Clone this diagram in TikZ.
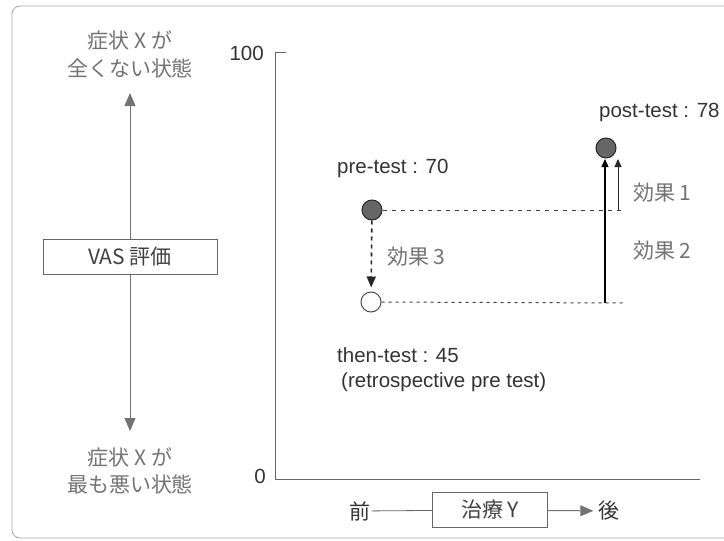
\documentclass[tikz,border=0pt]{standalone}
\usepackage{fontspec}
\setmainfont{Liberation Sans}
\newfontfamily\jp{Noto Sans CJK JP}
\usetikzlibrary{arrows.meta, positioning, calc}
\usepackage{xcolor}
\tikzstyle{arrow} = [thick,->,>=stealth]
\tikzset{
  txt/.style    = {inner sep = 1pt, text = black!80, font = \fontsize{20.5}{24}\selectfont},
  jtxt/.style   = {inner sep = 1pt, text = black!55, font = \jp\fontsize{21}{24}\selectfont},
  box/.style    = {draw = black!60, line width = 0.8pt, inner sep = 0pt,
                   text = black!75, font = \jp\fontsize{21}{24}\selectfont},
  dot/.style    = {circle, minimum size = 20, inner sep = 0pt, line width = 1pt},
  filled/.style = {dot, draw = black!85, fill = black!60},
  hollow/.style = {dot, draw = black!70, fill = white},
  grayarrow/.style = {draw = black!55, line width = 1pt,
                      -{Triangle[width = 11, length = 13]}},
  effarrow/.style  = {draw = black, line width = 1.2pt,
                      -{Triangle[width = 7, length = 8]}},
  guide/.style  = {draw = black!75, line width = 1pt, dash pattern = on 4pt off 5pt},
  axis/.style   = {draw = black!60, line width = 1pt}
}
\begin{document}
\begin{tikzpicture}[x=1pt, y=-1pt]
\useasboundingbox (0,0) rectangle (724,541);
% frame
\draw[black!35, line width = 0.8pt, rounded corners = 8] (12,6) rectangle (760,538);

% VAS scale on the left
\node[jtxt] (bestA) at (130,40) {症状 X が};
\node[jtxt] (bestB) at (130,68) {全くない状態};
\node[box, minimum width = 174, minimum height = 35] (vas) at (130,257) {VAS 評価};
\node[jtxt] (worstA) at (130,457) {症状 X が};
\node[jtxt] (worstB) at (130,484) {最も悪い状態};
\coordinate (best) at (130,93);
\coordinate (worst) at (130,431);
\draw[grayarrow] (vas.north) -- (best);
\draw[grayarrow] (vas.south) -- (worst);

% axes
\coordinate (origin) at (275,479);
\coordinate (ytop) at (275,52);
\coordinate (ytick) at (286,52);
\coordinate (xend) at (700,479);
\draw[axis] (ytick) -- (ytop) -- (origin) -- (xend);
\node[txt, anchor = east] (hundred) at (265,53) {100};
\node[txt, anchor = east] (zero) at (267,476) {0};

% treatment
\node[jtxt, text = black!80] (before) at (360,511) {前};
\node[box, minimum width = 115, minimum height = 35] (treat) at (490,510) {治療 Y};
\node[jtxt, text = black!80] (after) at (609,511) {後};
\draw[black!60, line width = 0.8pt] (before) -- (treat);
\draw[grayarrow, shorten > = 4pt] (treat) -- (after);

% measurements
\node[filled] (pre) at (372,210) {};
\node[hollow] (then) at (371,302) {};
\node[filled] (post) at (606,148) {};
\node[txt, anchor = west] (prelbl) at (336,168) {pre-test : 70};
\node[txt, anchor = west] (postlbl) at (598,112) {post-test : 78};
\node[txt, anchor = west] (thenlbl) at (336,355) {then-test : 45};
\node[txt, anchor = west] (retro) at (340,382) {(retrospective pre test)};

\coordinate (preEnd) at (623,210);
\coordinate (thenEnd) at (623,303);
\draw[guide] (pre) -- (preEnd);
\draw[guide, dash pattern = on 3pt off 4pt] (then) -- (thenEnd);

% effects
\coordinate (e2) at (605,303);
\coordinate (e2top) at (605,159);
\coordinate (e1) at (618,210);
\coordinate (e1top) at (618,159);
\draw[effarrow] (e2) -- (e2top);
\draw[effarrow, line width = 0.9pt, draw = black!85] (e1) -- (e1top);
\draw[black!85, line width = 1.6pt, dash pattern = on 4pt off 4pt,
      -{Triangle[width = 9, length = 11]}, shorten > = 4pt] (pre) -- (then);
\node[jtxt, anchor = west] (eff1) at (632,193) {効果 1};
\node[jtxt, anchor = west] (eff2) at (632,251) {効果 2};
\node[jtxt, anchor = west] (eff3) at (386,257) {効果 3};
\end{tikzpicture}
\end{document}
